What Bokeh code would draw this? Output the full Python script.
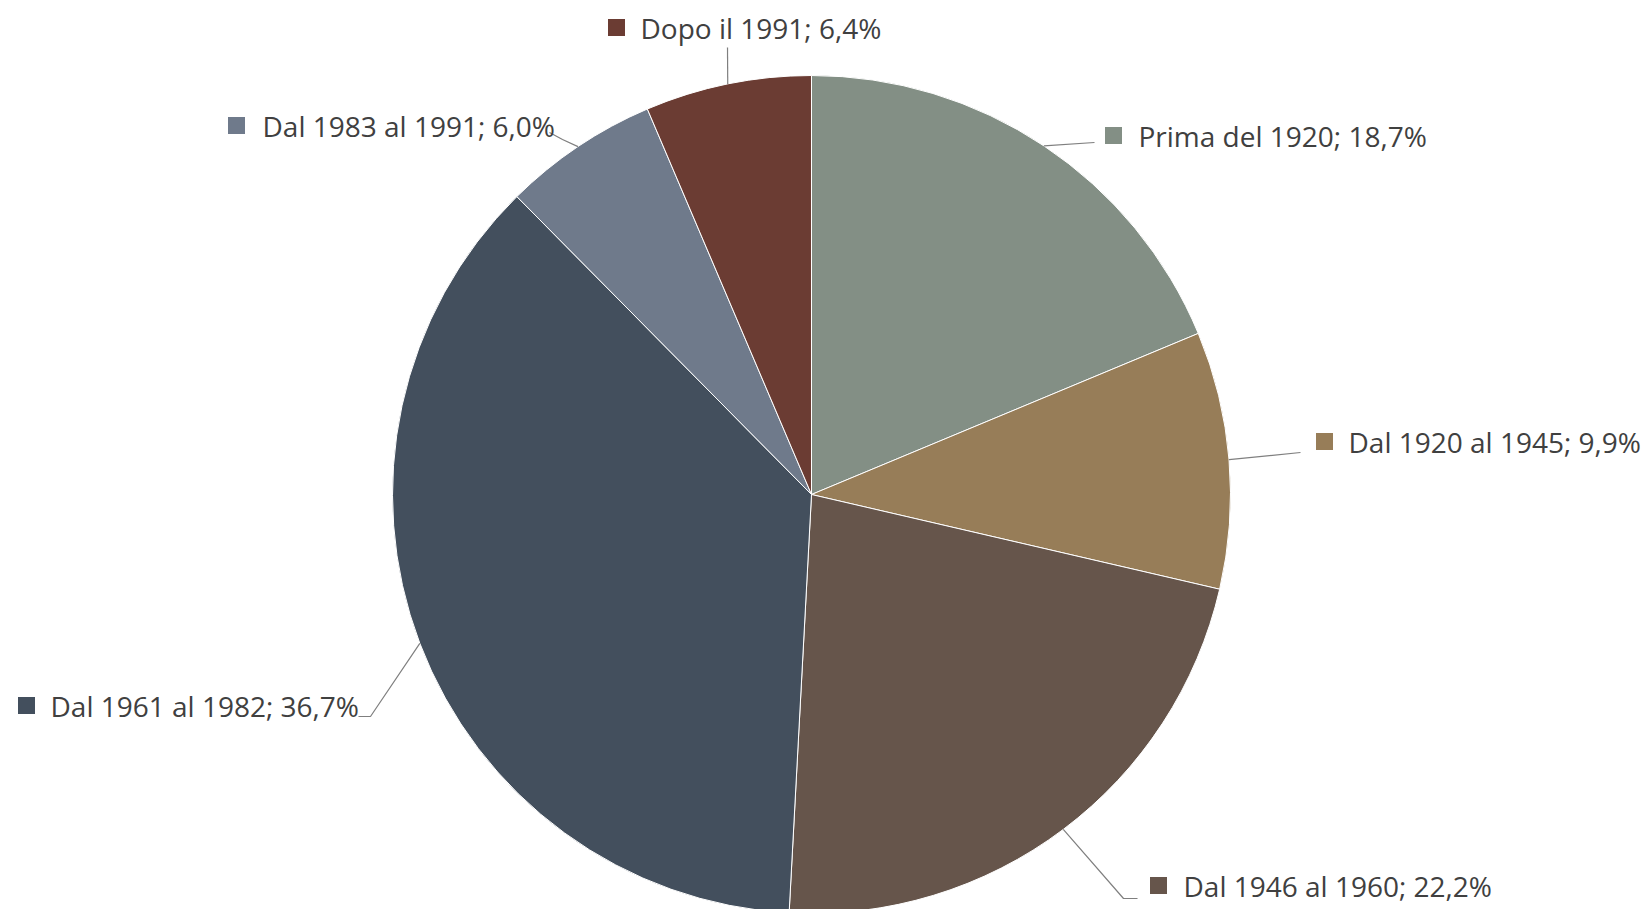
import math
from bokeh.plotting import figure
from bokeh.models import Range1d, ColumnDataSource
from bokeh.core.properties import value
from bokeh.embed import file_html
from bokeh.resources import INLINE

# ---- data ----
categories = ["Prima del 1920", "Dal 1920 al 1945", "Dal 1946 al 1960",
              "Dal 1961 al 1982", "Dal 1983 al 1991", "Dopo il 1991"]
shares = [18.7, 9.9, 22.2, 36.7, 6.0, 6.4]
colors = ["#838f85", "#977d58", "#66554b", "#434f5d", "#6f7a8b", "#6b3c33"]

# ---- layout (pixel coords on page, y downward) ----
W, H = 1650, 909
CX, CY, R = 811, 494, 419
# label anchor: (square x, text x, y center)
label_pos = [(1113, 1138, 135), (1324, 1348, 441), (1158, 1183, 885),
             (26, 50, 705), (236, 262, 125), (616, 640, 27)]
# leader line extra points after the edge point
leader_pts = [[(1094, 142)], [(1300, 452)], [(1123, 898), (1137, 898)],
              [(370, 716), (358, 716)], [(562, 139), (549, 132)], [(727, 47)]]
FONT = "Open Sans"
FS = "28px"

p = figure(width=W, height=H, output_backend="svg", toolbar_location=None,
           x_range=Range1d(0, W), y_range=Range1d(-H, 0),
           min_border=0)
p.axis.visible = False
p.grid.visible = False
p.outline_line_color = None
p.background_fill_color = "white"
p.border_fill_color = "white"

total = sum(shares)
starts, ends, mids = [], [], []
cum = 0.0
for v in shares:
    a0 = math.pi / 2 - 2 * math.pi * cum / total
    cum += v
    a1 = math.pi / 2 - 2 * math.pi * cum / total
    starts.append(a0)
    ends.append(a1)
    mids.append((a0 + a1) / 2)

src = ColumnDataSource(dict(start=starts, end=ends, color=colors))
p.wedge(x=CX, y=-CY, radius=R, start_angle="start", end_angle="end",
        direction="clock", fill_color="color", line_color="white",
        line_width=1, source=src)

# leader lines
for m, pts in zip(mids, leader_pts):
    ex = CX + R * math.cos(m)
    ey = CY - R * math.sin(m)
    xs = [ex] + [q[0] for q in pts]
    ys = [-ey] + [-q[1] for q in pts]
    p.line(xs, ys, line_color="#7f7f7f", line_width=1.2)

labels = [f"{c}; {v:.1f}%".replace(".", ",") for c, v in zip(categories, shares)]
p.scatter(x=[l[0] for l in label_pos], y=[-l[2] for l in label_pos],
          marker="square", size=17, fill_color=colors, line_color=None)
p.text(x=[l[1] for l in label_pos], y=[-l[2] for l in label_pos], text=labels,
       text_font=value(FONT), text_font_size=FS, text_color="#404040",
       text_baseline="middle", text_align="left")

open("out.html", "w").write(file_html(p, INLINE))
